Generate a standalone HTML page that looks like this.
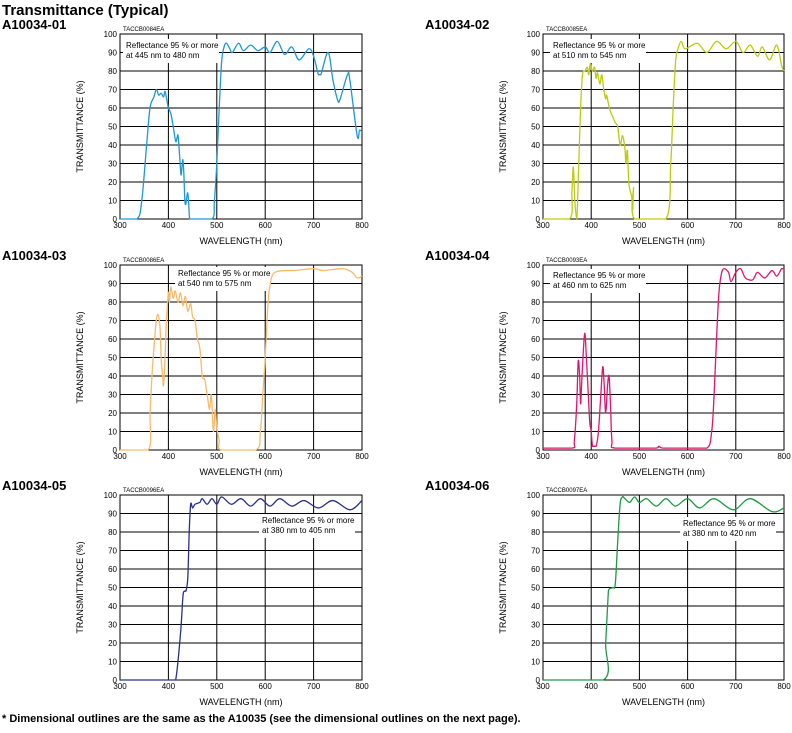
<!DOCTYPE html>
<html><head><meta charset="utf-8"><style>
body{margin:0;background:#fff;width:792px;height:728px;overflow:hidden;font-family:"Liberation Sans",Arial,sans-serif}
</style></head><body>
<svg id="s" width="792" height="728" xmlns="http://www.w3.org/2000/svg" font-family="Liberation Sans, Arial, sans-serif">
<text x="2" y="15" font-size="15" font-weight="bold">Transmittance (Typical)</text>
<text x="2" y="722" font-size="11" font-weight="bold">* Dimensional outlines are the same as the A10035 (see the dimensional outlines on the next page).</text>
</svg>
<script>
const s=document.getElementById('s');const NS='http://www.w3.org/2000/svg';
function el(t,a,txt){const e=document.createElementNS(NS,t);for(const k in a)e.setAttribute(k,a[k]);if(txt!=null)e.textContent=txt;s.appendChild(e);return e;}
function P(str){return str.split(';').map(p=>p.split(',').map(Number));}
const charts=[
{t:'A10034-01',code:'TACCB0084EA',x0:120,x1:362,y0:34,y1:219,c:'#1e98d4',tx:126,ty:48,l1:'Reflectance 95 % or more',l2:'at 445 nm to 480 nm',
d:'300,0;335,0;345,10;355,40;362,60;370,66;375,70;380,67;385,68;390,66;393,69;397,64;400,60;405,57;410,50;415,42;418,44;420,45;423,35;426,24;428,28;430,32;432,24;434,10;436,8;438,12;440,14;442,8;444,0;450,0;490,0;495,10;500,30;505,60;510,85;515,93;520,95;527,92;532,90;545,95;555,91;570,94;585,91;600,93;610,90;625,96;640,89;655,93;670,86;690,92;700,88;710,78;715,78;730,90;740,75;750,64;755,65;770,78;775,75;790,45;795,48;800,47'},
{t:'A10034-02',code:'TACCB0085EA',x0:543,x1:784,y0:34,y1:219,c:'#bccb10',tx:553,ty:48,l1:'Reflectance 95 % or more',l2:'at 510 nm to 545 nm',
d:'300,0;355,0;360,15;363,28;366,10;370,0;373,20;378,60;382,78;387,80;392,82;395,78;398,84;402,80;407,82;410,76;413,79;418,73;422,78;426,70;430,65;432,67;436,62;440,58;445,55;450,52;455,50;460,40;465,45;470,38;472,30;475,37;478,20;481,15;484,12;486,5;488,17;490,0;555,0;565,30;570,60;575,85;580,92;587,96;595,92;620,95;640,90;660,96;680,92;700,96;715,90;730,94;745,88;755,93;770,86;785,94;795,83;800,80'},
{t:'A10034-03',code:'TACCB0086EA',x0:120,x1:362,y0:265,y1:450,c:'#f6bb6a',tx:178,ty:276,l1:'Reflectance 95 % or more',l2:'at 540 nm to 575 nm',
d:'300,0;358,0;362,20;366,40;370,55;375,70;379,73;383,65;385,50;388,40;390,35;393,50;396,70;400,85;402,80;405,88;410,82;414,86;420,80;425,85;430,78;435,83;440,75;446,79;450,72;455,70;460,60;465,55;470,40;475,38;480,30;485,22;488,30;490,25;493,10;497,22;500,12;505,5;510,0;580,0;590,10;595,30;600,50;606,80;612,92;620,96;640,97;660,97;700,98;720,97;760,98;780,96;790,93;800,94'},
{t:'A10034-04',code:'TACCB0093EA',x0:543,x1:784,y0:265,y1:450,c:'#e0156e',tx:553,ty:278,l1:'Reflectance 95 % or more',l2:'at 460 nm to 625 nm',
d:'300,1;360,1;365,5;370,25;373,48;376,40;378,25;380,35;384,55;387,63;390,50;394,30;397,15;400,10;403,2;410,2;415,10;420,30;424,45;427,35;430,20;434,35;437,40;440,25;443,5;450,1;530,1;540,2;550,1;600,1;640,1;650,10;655,30;660,60;665,85;670,95;675,98;685,96;690,91;700,96;710,98;720,93;735,92;745,96;760,93;775,97;785,94;795,98;800,98'},
{t:'A10034-05',code:'TACCB0096EA',x0:120,x1:362,y0:495,y1:680,c:'#27318a',tx:262,ty:523,l1:'Reflectance 95 % or more',l2:'at 380 nm to 405 nm',
d:'300,0;405,0;415,0;425,25;430,45;433,48;436,48;440,55;443,80;446,95;450,93;455,95;465,96;470,98;480,95;490,98;500,95;510,99;530,95;550,98;570,94;590,98;610,94;630,98;655,94;680,97;710,93;740,97;775,92;800,97'},
{t:'A10034-06',code:'TACCB0097EA',x0:543,x1:784,y0:495,y1:680,c:'#1d9a45',tx:683,ty:526,l1:'Reflectance 95 % or more',l2:'at 380 nm to 420 nm',
d:'300,0;425,0;430,20;435,45;437,49;445,50;450,52;455,75;460,95;465,99;470,98;480,96;490,99;500,96;515,98;535,94;555,98;575,94;600,98;625,93;655,98;695,92;730,98;775,91;800,93'}
];
charts.forEach(ch=>{
 const X=v=>ch.x0+(v-300)/500*(ch.x1-ch.x0), Y=v=>ch.y1-v/100*(ch.y1-ch.y0);
 const left=ch.x0<300;
 el('text',{x:left?2:425,y:ch.y0-5,'font-size':13,'font-weight':'bold'},ch.t);
 el('text',{x:ch.x0+3,y:ch.y0-3,'font-size':6},ch.code);
 for(let v=0;v<=100;v+=10){el('line',{x1:ch.x0,x2:ch.x1,y1:Y(v),y2:Y(v),stroke:'#000','stroke-width':1});
  el('text',{x:ch.x0-3,y:Y(v)+3,'font-size':8,'text-anchor':'end'},v);}
 for(let v=300;v<=800;v+=100){el('line',{x1:X(v),x2:X(v),y1:ch.y0,y2:ch.y1,stroke:'#000','stroke-width':1});
  el('text',{x:X(v),y:ch.y1+9,'font-size':8,'text-anchor':'middle'},v);}
 el('rect',{x:ch.x0,y:ch.y0,width:ch.x1-ch.x0,height:ch.y1-ch.y0,fill:'none',stroke:'#000','stroke-width':1});
 el('text',{x:(ch.x0+ch.x1)/2,y:ch.y1+25,'font-size':9,'text-anchor':'middle'},'WAVELENGTH (nm)');
 const cx=ch.x0-37,cy=(ch.y0+ch.y1)/2;
 el('text',{x:cx,y:cy,'font-size':9,'text-anchor':'middle',transform:`rotate(-90 ${cx} ${cy})`},'TRANSMITTANCE (%)');
 el('rect',{x:ch.tx-3,y:ch.ty-9,width:96,height:24,fill:'#fff'});
 el('text',{x:ch.tx,y:ch.ty,'font-size':8},ch.l1);
 el('text',{x:ch.tx,y:ch.ty+10,'font-size':8},ch.l2);
 const p=P(ch.d).map(q=>[X(q[0]),Y(q[1])]);
 const cl=v=>Math.max(ch.y0,Math.min(ch.y1,v));
 let d='M'+p[0][0]+','+p[0][1];
 for(let i=0;i<p.length-1;i++){const a=p[Math.max(0,i-1)],b=p[i],c=p[i+1],e=p[Math.min(p.length-1,i+2)];
  const c1=[b[0]+(c[0]-a[0])/6,cl(b[1]+(c[1]-a[1])/6)],c2=[c[0]-(e[0]-b[0])/6,cl(c[1]-(e[1]-b[1])/6)];
  if(b[1]===c[1]){c1[1]=b[1];c2[1]=c[1];}
  d+=`C${c1[0]},${c1[1]} ${c2[0]},${c2[1]} ${c[0]},${c[1]}`;}
 el('path',{d:d,fill:'none',stroke:ch.c,'stroke-width':1.3});
});
</script>
</body></html>
